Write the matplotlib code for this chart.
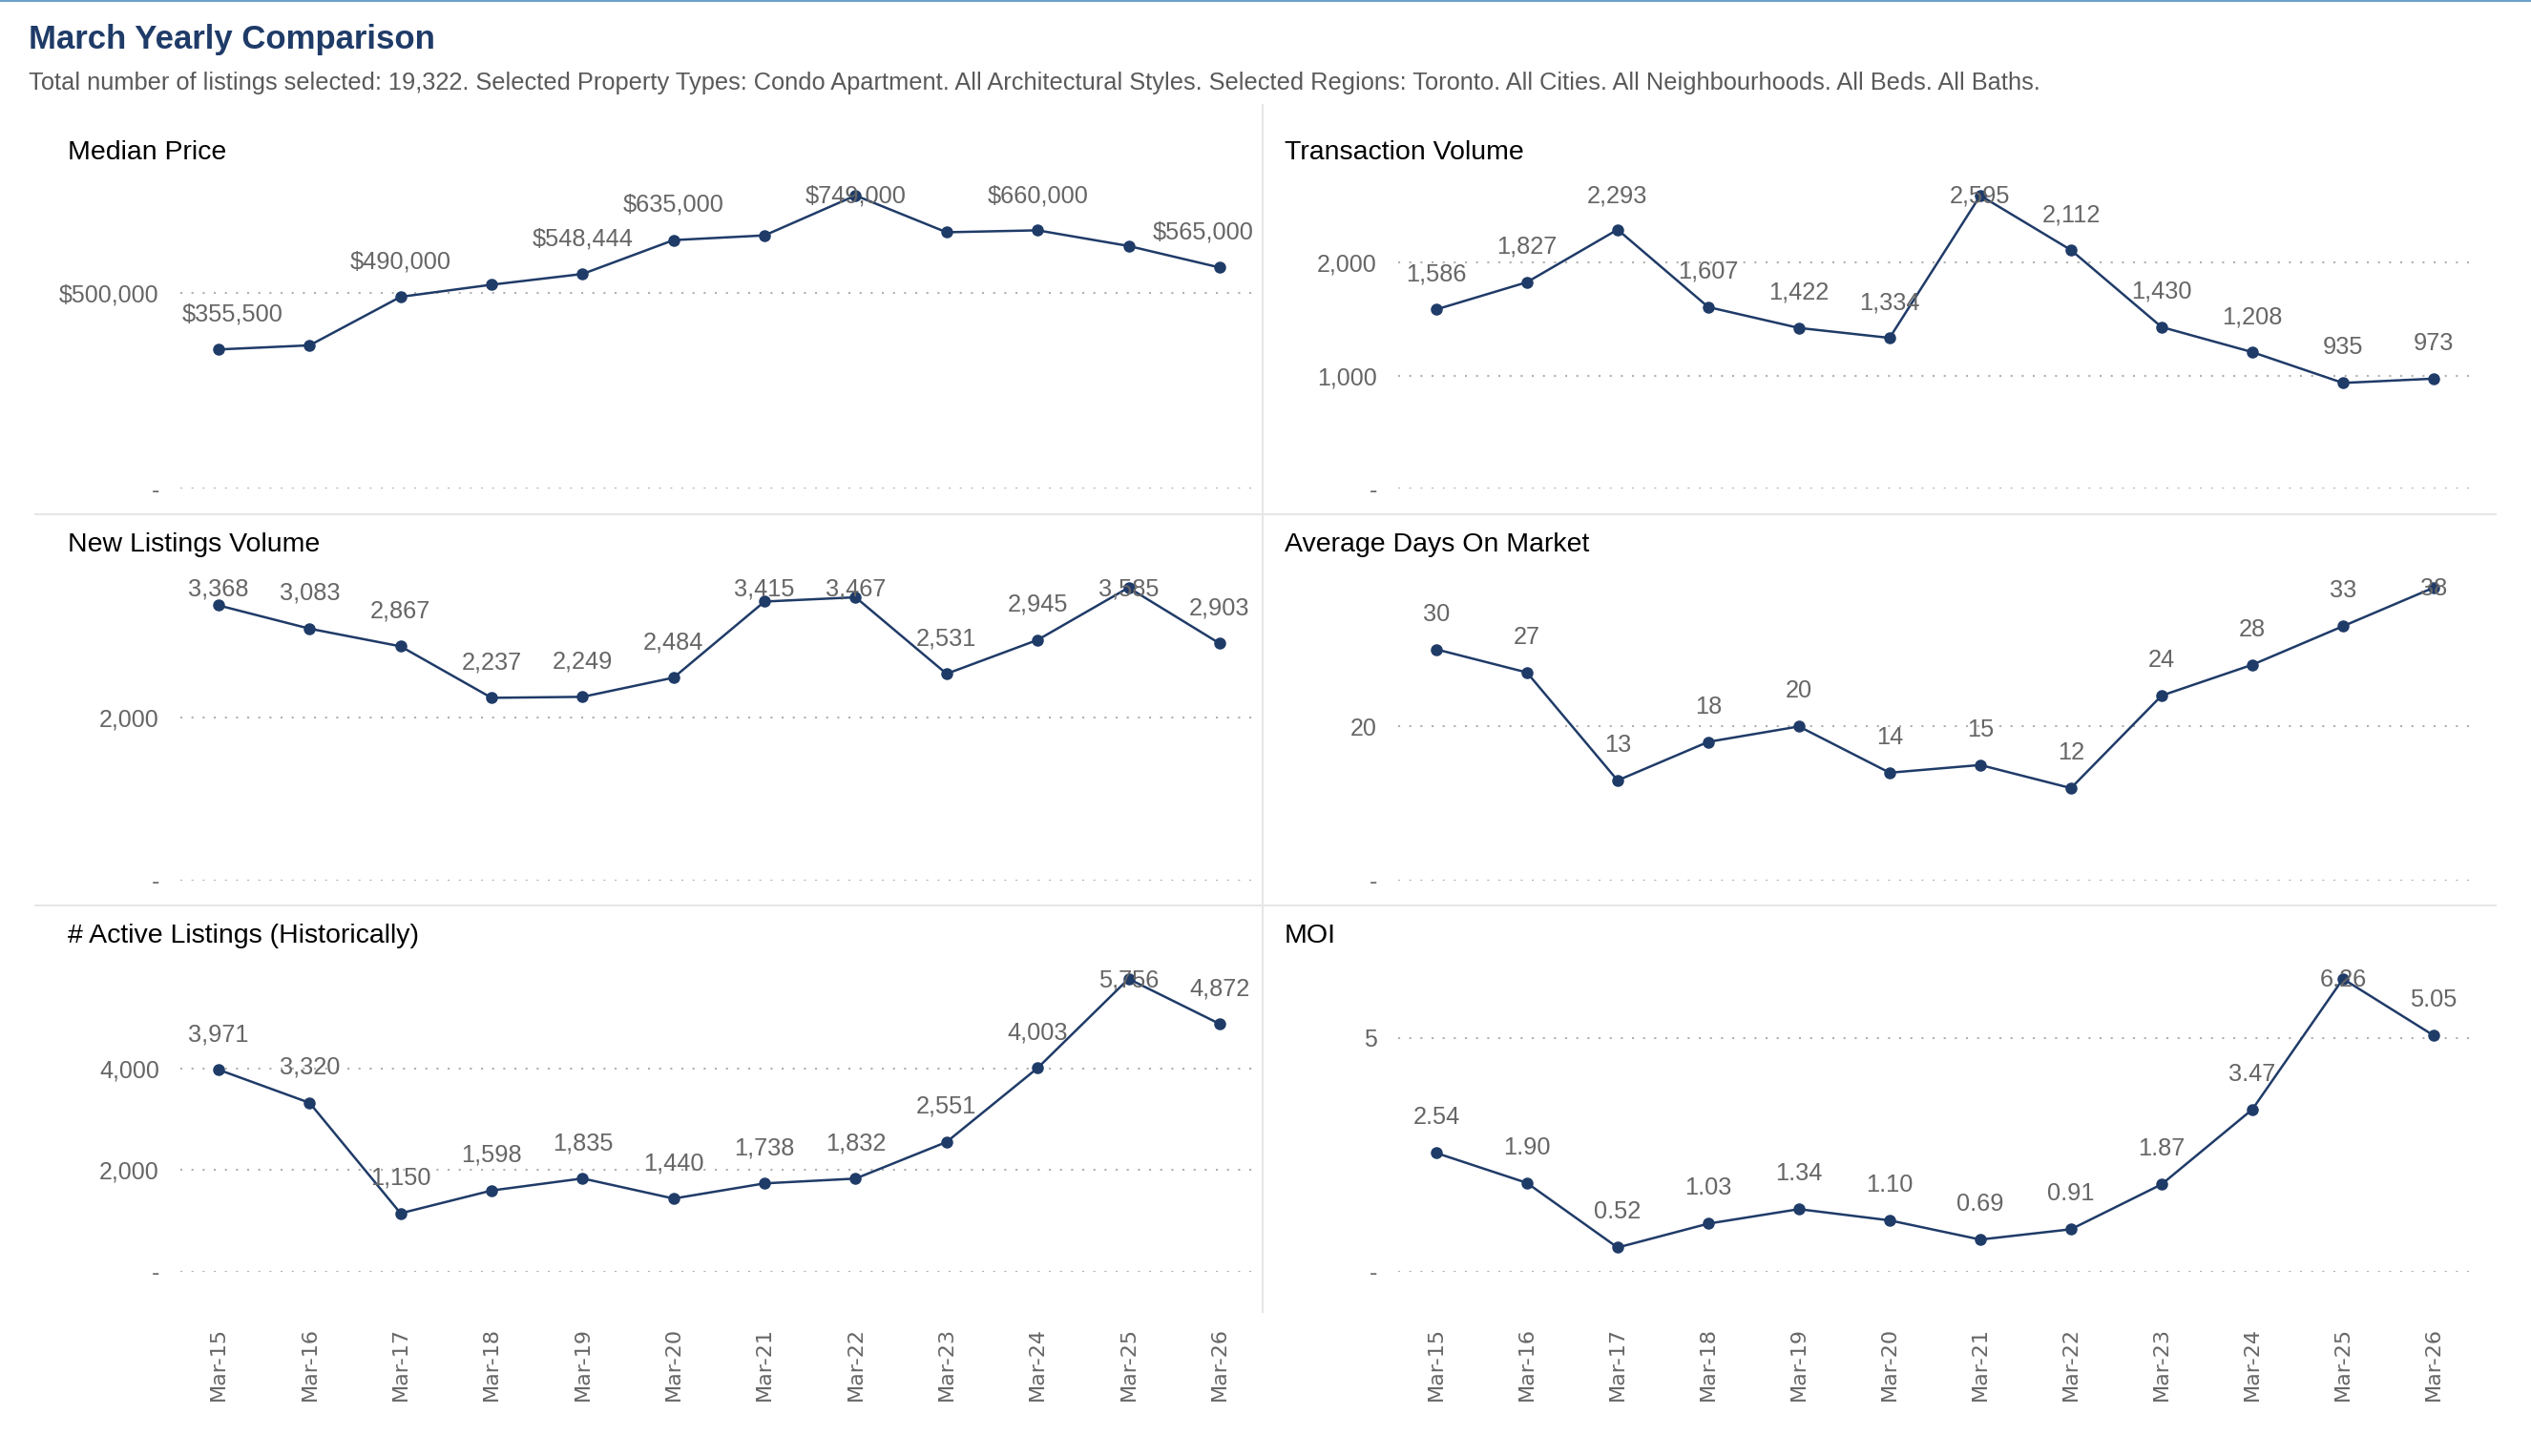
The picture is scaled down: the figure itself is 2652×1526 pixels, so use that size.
import matplotlib
matplotlib.use("Agg")
import matplotlib.pyplot as plt
from matplotlib.lines import Line2D

# ---------------- data ----------------
categories = ["Mar-15", "Mar-16", "Mar-17", "Mar-18", "Mar-19", "Mar-20",
              "Mar-21", "Mar-22", "Mar-23", "Mar-24", "Mar-25", "Mar-26"]

median_price = [355500, 366000, 490000, 521000, 548444, 635000,
                647000, 749000, 655000, 660000, 620000, 565000]
transaction_volume = [1586, 1827, 2293, 1607, 1422, 1334,
                      2595, 2112, 1430, 1208, 935, 973]
new_listings = [3368, 3083, 2867, 2237, 2249, 2484,
                3415, 3467, 2531, 2945, 3585, 2903]
avg_days = [30, 27, 13, 18, 20, 14, 15, 12, 24, 28, 33, 38]
active_listings = [3971, 3320, 1150, 1598, 1835, 1440,
                   1738, 1832, 2551, 4003, 5756, 4872]
moi = [2.54, 1.90, 0.52, 1.03, 1.34, 1.10, 0.69, 0.91, 1.87, 3.47, 6.26, 5.05]

median_ticks = [0, 500000]
transaction_ticks = [0, 1000, 2000]
new_listings_ticks = [0, 2000]
avg_days_ticks = [0, 20]
active_ticks = [0, 2000, 4000]
moi_ticks = [0, 5]

median_labels_shown = [0, 2, 4, 5, 7, 9, 11]

title = "March Yearly Comparison"
subtitle = ("Total number of listings selected: 19,322. Selected Property Types: Condo Apartment. "
            "All Architectural Styles. Selected Regions: Toronto. All Cities. All Neighbourhoods. "
            "All Beds. All Baths.")

# ---------------- style ----------------
W, H = 2652, 1526
plt.rcParams['font.family'] = ['Liberation Sans', 'DejaVu Sans']
fig = plt.figure(figsize=(W / 100, H / 100), dpi=100)
fig.patch.set_facecolor("white")

NAVY = "#1f3b68"
LABEL_C = "#666666"
TICK_C = "#666666"
GRID_C = "#b0b0b0"
SEP_C = "#e6e6e6"


def px_to_fig(x0, x1, ytop, ybot):
    return [x0 / W, 1 - ybot / H, (x1 - x0) / W, (ybot - ytop) / H]


AX_H = 320
cols = [(189, 1316), (1465, 2588)]
zeros = [512, 923, 1333]


def fmt_money(v):
    return "${:,.0f}".format(v)


def fmt_int(v):
    return "{:,.0f}".format(v)


def fmt_2(v):
    return "{:.2f}".format(v)


panels = [
    ("Median Price", median_price, median_ticks, fmt_money, fmt_money, median_labels_shown, 0, 0),
    ("Transaction Volume", transaction_volume, transaction_ticks, fmt_int, fmt_int, None, 0, 1),
    ("New Listings Volume", new_listings, new_listings_ticks, fmt_int, fmt_int, None, 1, 0),
    ("Average Days On Market", avg_days, avg_days_ticks, fmt_int, fmt_int, None, 1, 1),
    ("# Active Listings (Historically)", active_listings, active_ticks, fmt_int, fmt_int, None, 2, 0),
    ("MOI", moi, moi_ticks, fmt_2, fmt_int, None, 2, 1),
]

x = list(range(len(categories)))
label_items = []
for name, vals, ticks, fmt, tfmt, shown, r, c in panels:
    x0, x1 = cols[c]
    zb = zeros[r]
    ax = fig.add_axes(px_to_fig(x0, x1, zb - AX_H, zb))
    ymax = max(vals) * 1.042
    ax.set_ylim(0, ymax)
    ax.set_xlim(-0.42, len(categories) - 1 + 0.4)
    for t in ticks:
        ax.axhline(t, color=GRID_C, lw=1.5, linestyle=(0, (1, 4.6)), zorder=1)
    ax.plot(x, vals, color=NAVY, lw=1.8, marker="o", markersize=8,
            markerfacecolor=NAVY, markeredgecolor=NAVY, zorder=3, clip_on=False)
    ax.set_yticks(ticks)
    ax.set_yticklabels(["-" if t == 0 else tfmt(t) for t in ticks])
    ax.tick_params(axis="y", length=0, pad=16, labelsize=18, labelcolor=TICK_C)
    if r == 2:
        ax.set_xticks(x)
        ax.set_xticklabels(categories, rotation=90, family="DejaVu Sans",
                           fontsize=16, color=TICK_C, va="top")
        ax.tick_params(axis="x", length=0, pad=42)
    else:
        ax.set_xticks([])
    for s in ax.spines.values():
        s.set_visible(False)
    ax.patch.set_alpha(0)

    # data labels
    for i, v in enumerate(vals):
        if shown is not None and i not in shown:
            continue
        frac = v / ymax
        yl = min(frac + 37 / AX_H, 1 - 14 / AX_H)
        t = ax.text(i, yl, fmt(v), transform=ax.get_xaxis_transform(),
                    ha="center", va="center", fontsize=18.3, color=LABEL_C, zorder=4)
        label_items.append((ax, t, i, yl))

    # panel title
    tx = 71 if c == 0 else 1346
    ty = zb - AX_H - 32
    fig.text(tx / W, 1 - ty / H, name, fontsize=20.5, color="black",
             ha="left", va="center")

# keep data labels inside the plot area horizontally
fig.canvas.draw()
renderer = fig.canvas.get_renderer()
for ax, t, i, yl in label_items:
    bb = t.get_window_extent(renderer)
    abb = ax.get_window_extent(renderer)
    xl0, xl1 = ax.get_xlim()
    per_px = (xl1 - xl0) / abb.width
    shift = 0.0
    if bb.x0 < abb.x0 + 2:
        shift = (abb.x0 + 2 - bb.x0) * per_px
    elif bb.x1 > abb.x1 - 2:
        shift = (abb.x1 - 2 - bb.x1) * per_px
    if shift:
        t.set_x(i + shift)

# header
fig.text(30 / W, 1 - 41 / H, title, fontsize=25, fontweight="bold",
         color="#1f3b68", ha="left", va="center")
fig.text(30 / W, 1 - 87 / H, subtitle, fontsize=18.3, color="#595959",
         ha="left", va="center")

# top line & separators
fig.add_artist(Line2D([0, 1], [1 - 1 / H, 1 - 1 / H], transform=fig.transFigure,
                      color="#6fa0cc", lw=1.5))
fig.add_artist(Line2D([1323 / W, 1323 / W], [1 - 110 / H, 1 - 1375 / H],
                      transform=fig.transFigure, color=SEP_C, lw=1.5))
for yy in (539, 949):
    fig.add_artist(Line2D([37 / W, 2615 / W], [1 - yy / H, 1 - yy / H],
                          transform=fig.transFigure, color=SEP_C, lw=1.5))

fig.savefig("out.png", dpi=100, facecolor="white")
